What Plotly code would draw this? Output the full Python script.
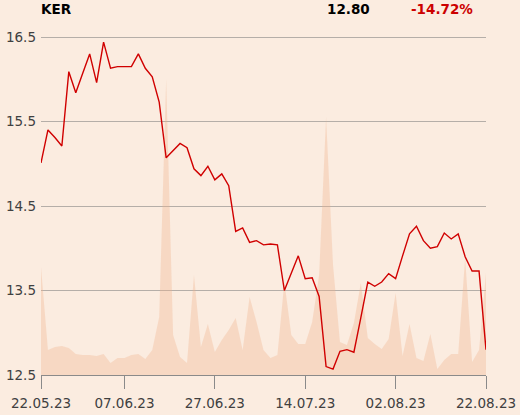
import plotly.graph_objects as go

# ---- data ----
ticker = "KER"
last_price_label = "12.80"
change_label = "-14.72%"

day_index = list(range(65))
close = [15.01, 15.40, 15.31, 15.21, 16.09, 15.84, 16.07, 16.30, 15.96, 16.44,
         16.13, 16.15, 16.15, 16.15, 16.30, 16.13, 16.03, 15.73, 15.07, 15.16,
         15.24, 15.19, 14.94, 14.86, 14.97, 14.81, 14.88, 14.74, 14.20, 14.24,
         14.07, 14.09, 14.04, 14.05, 14.04, 13.50, 13.71, 13.91, 13.64, 13.65,
         13.43, 12.60, 12.57, 12.78, 12.80, 12.77, 13.18, 13.60, 13.55, 13.60,
         13.70, 13.64, 13.91, 14.17, 14.26, 14.09, 14.00, 14.02, 14.18, 14.11,
         14.17, 13.90, 13.73, 13.73, 12.80]
volume_k = [432, 100, 112, 116, 108, 84, 80, 80, 76, 84,
            48, 68, 68, 80, 84, 64, 100, 232, 1184, 160,
            72, 48, 400, 112, 204, 92, 140, 180, 228, 100,
            312, 212, 100, 68, 80, 372, 160, 124, 124, 212,
            400, 1032, 440, 132, 120, 208, 368, 148, 124, 104,
            144, 328, 76, 204, 68, 56, 164, 24, 60, 84,
            84, 468, 52, 100, 408]

tick_idx = [0, 12, 25, 38, 51, 64]
tick_labels = ["22.05.23", "07.06.23", "27.06.23", "14.07.23", "02.08.23", "22.08.23"]
price_ticks = [12.5, 13.5, 14.5, 15.5, 16.5]
price_tick_labels = ["12.5", "13.5", "14.5", "15.5", "16.5"]

BG = "#FBECE0"
FONT = "DejaVu Sans"

fig = go.Figure()
fig.add_trace(go.Scatter(
    x=day_index, y=volume_k, mode="lines", line=dict(width=0),
    fill="tozeroy", fillcolor="rgba(240,180,140,0.34)",
    hoverinfo="skip", showlegend=False, yaxis="y"))
fig.add_trace(go.Scatter(
    x=day_index, y=close, mode="lines",
    line=dict(color="#D00000", width=1.4),
    showlegend=False, yaxis="y2"))

fig.update_layout(
    width=520, height=415,
    margin=dict(l=41, r=34, t=36, b=40, autoexpand=False),
    paper_bgcolor=BG, plot_bgcolor=BG,
    font=dict(family=FONT, size=13.5, color="#404040"),
    xaxis=dict(range=[0, 64], tickmode="array", tickvals=tick_idx, ticktext=tick_labels,
               ticks="outside", ticklen=13, tickwidth=1, tickcolor="#8a8a8a",
               showline=True, linecolor="#8a8a8a", linewidth=1, automargin=False,
               ticklabelstandoff=3,
               showgrid=False, zeroline=False, fixedrange=True),
    yaxis=dict(range=[0, 1356], visible=False, fixedrange=True),
    yaxis2=dict(range=[12.5, 16.512], overlaying="y", side="left", anchor="x",
                tickmode="array", tickvals=price_ticks, ticktext=price_tick_labels,
                showgrid=True, gridcolor="#b5aea8", gridwidth=1, automargin=False,
                zeroline=False, showline=False, ticks="", ticklabelstandoff=4,
                fixedrange=True),
    annotations=[
        dict(text="<b>%s</b>" % ticker, xref="paper", yref="paper",
             x=0.0022, y=1.08, xanchor="left", yanchor="middle", showarrow=False,
             xshift=-3, font=dict(family=FONT, size=13.5, color="#000000")),
        dict(text="<b>%s</b>" % last_price_label, xref="paper", yref="paper",
             x=0.739, y=1.08, xanchor="right", yanchor="middle", showarrow=False,
             xshift=2, font=dict(family=FONT, size=13.5, color="#000000")),
        dict(text="<b>%s</b>" % change_label, xref="paper", yref="paper",
             x=0.971, y=1.08, xanchor="right", yanchor="middle", showarrow=False,
             xshift=2, font=dict(family=FONT, size=13.5, color="#CC0000")),
    ],
)

fig.write_html("out.html", config={"displayModeBar": False},
               post_script="document.body.style.margin='0';document.body.style.background='%s';" % BG)
